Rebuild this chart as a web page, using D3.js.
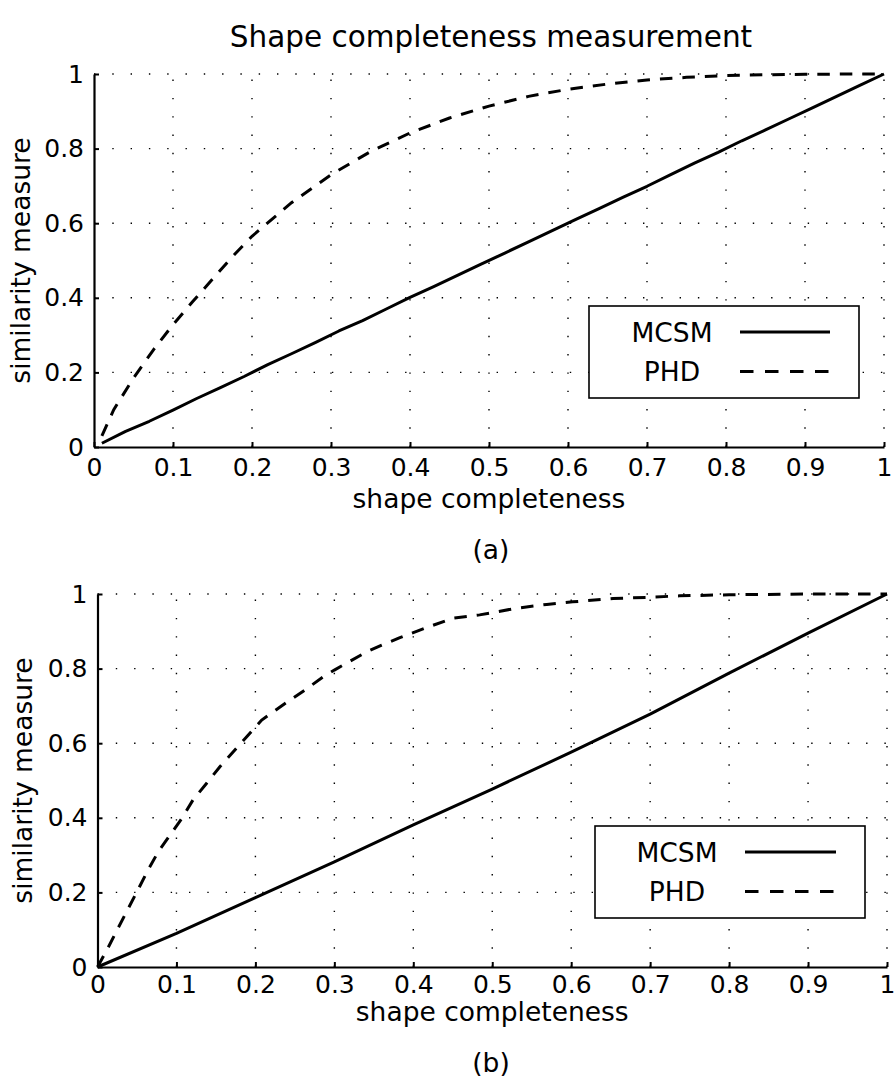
<!DOCTYPE html>
<html>
<head>
<meta charset="utf-8">
<script src="https://cdn.jsdelivr.net/npm/d3@7"></script>
<style>
  html, body { margin: 0; padding: 0; background: #fff; }
  svg { display: block; font-family: "DejaVu Sans", sans-serif; }
</style>
</head>
<body>
<svg id="chart" width="894" height="1085"></svg>
<script>
// Axis ticks shared by both panels
const xTicks = [0, 0.1, 0.2, 0.3, 0.4, 0.5, 0.6, 0.7, 0.8, 0.9, 1];
const xTickLabels = ["0", "0.1", "0.2", "0.3", "0.4", "0.5", "0.6", "0.7", "0.8", "0.9", "1"];
const yTicks = [0, 0.2, 0.4, 0.6, 0.8, 1];
const yTickLabels = ["0", "0.2", "0.4", "0.6", "0.8", "1"];

const seriesNames = ["MCSM", "PHD"];

// Panel (a)
const mcsmAx = [0.01, 0.04, 0.07, 0.10, 0.13, 0.16, 0.19, 0.22, 0.25, 0.28, 0.31, 0.34, 0.37, 0.40, 0.43, 0.46, 0.49,
                0.52, 0.55, 0.58, 0.61, 0.64, 0.67, 0.70, 0.73, 0.76, 0.79, 0.82, 0.85, 0.88, 0.91, 0.94, 0.97, 1.00];
const mcsmAy = [0.010, 0.042, 0.069, 0.099, 0.130, 0.159, 0.189, 0.221, 0.250, 0.280, 0.311, 0.339, 0.370, 0.401, 0.430, 0.460, 0.490,
                0.520, 0.550, 0.580, 0.610, 0.640, 0.670, 0.699, 0.730, 0.761, 0.790, 0.821, 0.850, 0.880, 0.910, 0.940, 0.970, 1.000];
const phdAx = [0.01, 0.025, 0.05, 0.075, 0.1, 0.125, 0.15, 0.175, 0.2, 0.25, 0.3, 0.35, 0.4, 0.45, 0.5,
               0.55, 0.6, 0.65, 0.7, 0.75, 0.8, 0.85, 0.9, 0.95, 1.0];
const phdAy = [0.03, 0.10, 0.185, 0.26, 0.328, 0.39, 0.45, 0.51, 0.565, 0.655, 0.73, 0.792, 0.842, 0.882, 0.914,
               0.94, 0.959, 0.973, 0.984, 0.991, 0.996, 0.998, 0.999, 1.0, 1.0];

// Panel (b)
const mcsmBx = [0, 0.1, 0.2, 0.3, 0.4, 0.5, 0.6, 0.7, 0.8, 0.9, 1.0];
const mcsmBy = [0, 0.090, 0.186, 0.282, 0.381, 0.477, 0.576, 0.678, 0.788, 0.895, 1.0];
const phdBx = [0, 0.013, 0.026, 0.039, 0.052, 0.064, 0.077, 0.092, 0.107, 0.121, 0.138, 0.155, 0.174, 0.193, 0.208,
               0.22, 0.24, 0.263, 0.286, 0.30, 0.315, 0.341, 0.36, 0.383, 0.417, 0.45, 0.484, 0.531, 0.569, 0.602,
               0.653, 0.695, 0.737, 0.8, 0.9, 1.0];
const phdBy = [0, 0.05, 0.104, 0.157, 0.21, 0.26, 0.309, 0.354, 0.399, 0.448, 0.492, 0.537, 0.582, 0.627, 0.662,
               0.68, 0.71, 0.743, 0.778, 0.796, 0.814, 0.845, 0.863, 0.883, 0.91, 0.935, 0.944, 0.962, 0.972, 0.979,
               0.988, 0.991, 0.995, 0.998, 1.0, 1.0];

const zip = (xs, ys) => xs.map((x, i) => ({ x, y: ys[i] }));

const svg = d3.select("#chart");
svg.append("rect").attr("width", 894).attr("height", 1085).attr("fill", "#fff");

svg.append("text")
  .attr("x", 491).attr("y", 47)
  .attr("text-anchor", "middle")
  .attr("font-size", 29.5)
  .text("Shape completeness measurement");

const TICK_FONT = 25;
const LABEL_FONT = 26.5;
const DASH = "12.5,10";

function drawPanel(cfg) {
  const x = d3.scaleLinear().domain([0, 1]).range([cfg.left, cfg.right]);
  const y = d3.scaleLinear().domain([0, 1]).range([cfg.bottom, cfg.top]);
  const g = svg.append("g");

  // dotted grid
  const grid = g.append("g").attr("stroke", "#000").attr("stroke-width", 1.4)
    .attr("stroke-dasharray", "1.4,16.9").attr("fill", "none");
  grid.selectAll("line.v").data(xTicks.slice(1)).join("line")
    .attr("x1", d => x(d)).attr("x2", d => x(d))
    .attr("y1", y(0)).attr("y2", y(1));
  grid.selectAll("line.h").data(yTicks.slice(1)).join("line")
    .attr("x1", x(0)).attr("x2", x(1))
    .attr("y1", d => y(d)).attr("y2", d => y(d));

  // axes
  const ax = g.append("g").attr("transform", `translate(0,${cfg.bottom})`)
    .call(d3.axisBottom(x).tickValues(xTicks).tickSizeInner(-5).tickSizeOuter(0).tickPadding(cfg.xPad)
      .tickFormat((d, i) => xTickLabels[i]));
  const ay = g.append("g").attr("transform", `translate(${cfg.left},0)`)
    .call(d3.axisLeft(y).tickValues(yTicks).tickSizeInner(-5).tickSizeOuter(0).tickPadding(10)
      .tickFormat((d, i) => yTickLabels[i]));
  [ax, ay].forEach(a => {
    a.attr("font-family", null).attr("font-size", null);
    a.select(".domain").attr("stroke", "#000").attr("stroke-width", 2.2);
    a.selectAll(".tick line").attr("stroke", "#000").attr("stroke-width", 2);
    a.selectAll(".tick text").attr("fill", "#000").style("font-size", TICK_FONT + "px");
  });

  const line = d3.line().x(d => x(d.x)).y(d => y(d.y));
  g.append("path").datum(zip(cfg.mx, cfg.my))
    .attr("d", line).attr("fill", "none").attr("stroke", "#000")
    .attr("stroke-width", 3).attr("stroke-linejoin", "round");
  g.append("path").datum(zip(cfg.px, cfg.py))
    .attr("d", line).attr("fill", "none").attr("stroke", "#000")
    .attr("stroke-width", 3).attr("stroke-dasharray", DASH);

  // axis titles
  g.append("text")
    .attr("x", (cfg.left + cfg.right) / 2).attr("y", cfg.xLabelY)
    .attr("text-anchor", "middle").attr("font-size", LABEL_FONT)
    .text("shape completeness");
  g.append("text")
    .attr("transform", `translate(${cfg.yLabelX},${(cfg.top + cfg.bottom) / 2}) rotate(-90)`)
    .attr("text-anchor", "middle").attr("font-size", LABEL_FONT)
    .text("similarity measure");
  g.append("text")
    .attr("x", 491).attr("y", cfg.captionY)
    .attr("text-anchor", "middle").attr("font-size", LABEL_FONT)
    .text(cfg.caption);

  // legend
  const L = cfg.legend;
  const lg = g.append("g");
  lg.append("rect").attr("x", L.x).attr("y", L.y).attr("width", L.w).attr("height", L.h)
    .attr("fill", "#fff").attr("stroke", "#000").attr("stroke-width", 1.6);
  seriesNames.forEach((name, i) => {
    const yy = L.y + 26 + i * 39.5;
    lg.append("text").attr("x", L.textX).attr("y", yy + 9.5)
      .attr("text-anchor", "middle").attr("font-size", LABEL_FONT).text(name);
    lg.append("line").attr("x1", L.lineX1).attr("x2", L.lineX2)
      .attr("y1", yy).attr("y2", yy)
      .attr("stroke", "#000").attr("stroke-width", 3)
      .attr("stroke-dasharray", i === 1 ? "13.5,11.5" : null);
  });
}

drawPanel({
  left: 94, right: 884, top: 74, bottom: 447,
  mx: mcsmAx, my: mcsmAy, px: phdAx, py: phdAy,
  xPad: 11, xLabelY: 508, yLabelX: 30, captionY: 559, caption: "(a)",
  legend: { x: 589, y: 306, w: 270, h: 92, textX: 672, lineX1: 740, lineX2: 830 }
});

drawPanel({
  left: 97.5, right: 887, top: 594, bottom: 967,
  mx: mcsmBx, my: mcsmBy, px: phdBx, py: phdBy,
  xPad: 8, xLabelY: 1021, yLabelX: 32, captionY: 1072, caption: "(b)",
  legend: { x: 595, y: 826, w: 270, h: 92, textX: 677, lineX1: 745, lineX2: 836 }
});
</script>
</body>
</html>
